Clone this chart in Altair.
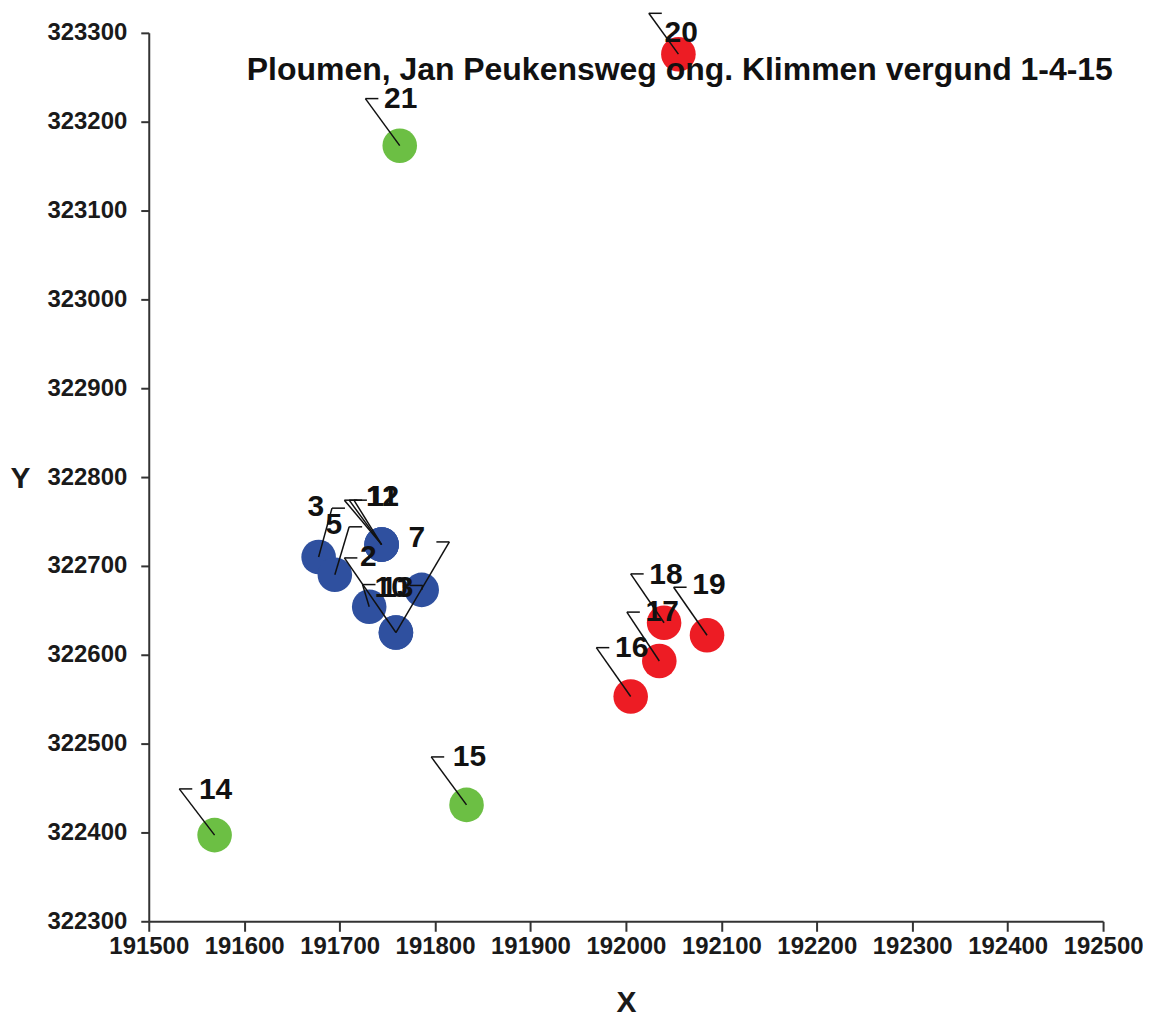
import altair as alt
import pandas as pd

# ---- data ----
labels  = ["1", "2", "3", "5", "7", "10", "11", "12", "13",
           "14", "15", "16", "17", "18", "19", "20", "21"]
groups  = ["blue"] * 9 + ["green", "green", "red", "red", "red", "red", "red", "green"]
point_x = [191744, 191759, 191678, 191695, 191759, 191731, 191744, 191744, 191786,
           191569, 191833, 192005, 192035, 192040, 192085, 192055, 191763]
point_y = [322724, 322625, 322710, 322690, 322625, 322654, 322724, 322724, 322673,
           322397, 322431, 322553, 322593, 322636, 322622, 323276, 323173]
# label text anchor (data units)
label_x = [191738, 191730, 191675, 191694, 191781, 191754, 191745, 191745, 191760,
           191570, 191836, 192006, 192038, 192042, 192087, 192058, 191764]
label_y = [322778, 322710, 322766, 322746, 322731, 322675, 322778, 322778, 322675,
           322448, 322485, 322608, 322648, 322690, 322678, 323300, 323226]
# leader line bend point (data units)
bend_x  = [191705, 191705, 191692, 191710, 191815, 191724, 191710, 191715, 191787,
           191532, 191796, 191969, 192001, 192005, 192050, 192024, 191727]
bend_y  = [322774, 322709, 322765, 322744, 322727, 322679, 322774, 322774, 322678,
           322449, 322485, 322608, 322648, 322691, 322676, 323322, 323226]
stub_side = ["r", "r", "r", "r", "l", "r", "r", "r", "l",
             "r", "r", "r", "r", "r", "r", "r", "r"]

x_ticks = list(range(191500, 192501, 100))
y_ticks = list(range(322300, 323301, 100))
title_text = "Ploumen, Jan Peukensweg ong. Klimmen vergund 1-4-15"

df = pd.DataFrame({
    "label": labels, "group": groups,
    "x": point_x, "y": point_y,
    "lx": label_x, "ly": label_y,
    "bx": bend_x, "by": bend_y,
    "side": stub_side,
})

FONT = "Liberation Sans"

xs = alt.Scale(domain=[191500, 192500], nice=False, zero=False)
ys = alt.Scale(domain=[322300, 323300], nice=False, zero=False)

xenc = alt.X("x:Q", scale=xs, axis=alt.Axis(
    values=x_ticks, title="X", grid=False, format="d",
    labelFont=FONT, labelFontSize=24, labelFontWeight="bold", labelColor="#1a1a1a",
    labelPadding=3, tickSize=10, tickWidth=2, tickColor="#333", domainColor="#333",
    domainWidth=2, titleFont=FONT, titleFontSize=30, titleFontWeight="bold",
    titleColor="#1a1a1a", titleX=478, titleY=81, titleBaseline="middle",
    labelFlush=False, labelOverlap=False))
yenc = alt.Y("y:Q", scale=ys, axis=alt.Axis(
    values=y_ticks, title="Y", grid=False, format="d",
    labelFont=FONT, labelFontSize=24, labelFontWeight="bold", labelColor="#1a1a1a",
    labelPadding=14, tickSize=8, tickWidth=2, tickColor="#333", domainColor="#333",
    domainWidth=2, titleFont=FONT, titleFontSize=30, titleFontWeight="bold",
    titleColor="#1a1a1a", titleAngle=0, titleX=-129, titleY=446,
    titleAlign="center", titleBaseline="middle",
    labelFlush=False, labelOverlap=False))

color = alt.Color("group:N", scale=alt.Scale(
    domain=["blue", "green", "red"], range=["#2f509f", "#6cbf44", "#ed1c24"]), legend=None)

base = alt.Chart(df)

points = base.mark_point(shape="circle", filled=True, size=1200, opacity=1).encode(
    x=xenc, y=yenc, color=color)

leader = base.mark_rule(color="#111", strokeWidth=1.5).encode(
    x=alt.X("x:Q", scale=xs), y=alt.Y("y:Q", scale=ys),
    x2="bx:Q", y2="by:Q")

stub_r = base.transform_filter(alt.datum.side == "r").mark_rule(
    color="#111", strokeWidth=1.5, x2Offset=13).encode(
    x=alt.X("bx:Q", scale=xs), y=alt.Y("by:Q", scale=ys), x2="bx:Q", y2="by:Q")
stub_l = base.transform_filter(alt.datum.side == "l").mark_rule(
    color="#111", strokeWidth=1.5, x2Offset=-13).encode(
    x=alt.X("bx:Q", scale=xs), y=alt.Y("by:Q", scale=ys), x2="bx:Q", y2="by:Q")

texts = base.mark_text(font=FONT, fontSize=30, fontWeight="bold", color="#111",
                       align="center", baseline="middle").encode(
    x=alt.X("lx:Q", scale=xs), y=alt.Y("ly:Q", scale=ys), text="label:N")

title = alt.Chart(pd.DataFrame({"t": [title_text]})).mark_text(
    font=FONT, fontSize=32, fontWeight="bold", color="#111",
    align="center", baseline="middle").encode(
    x=alt.value(532), y=alt.value(37), text="t:N")

chart = alt.layer(points, leader, stub_r, stub_l, texts, title).properties(
    width=956, height=890,
    autosize=alt.AutoSizeParams(type="none"),
    padding={"left": 141, "top": 24, "right": 40, "bottom": 100},
).configure(background="white").configure_view(stroke=None)

chart.save("out.html", embed_options={"renderer": "svg", "actions": False})
